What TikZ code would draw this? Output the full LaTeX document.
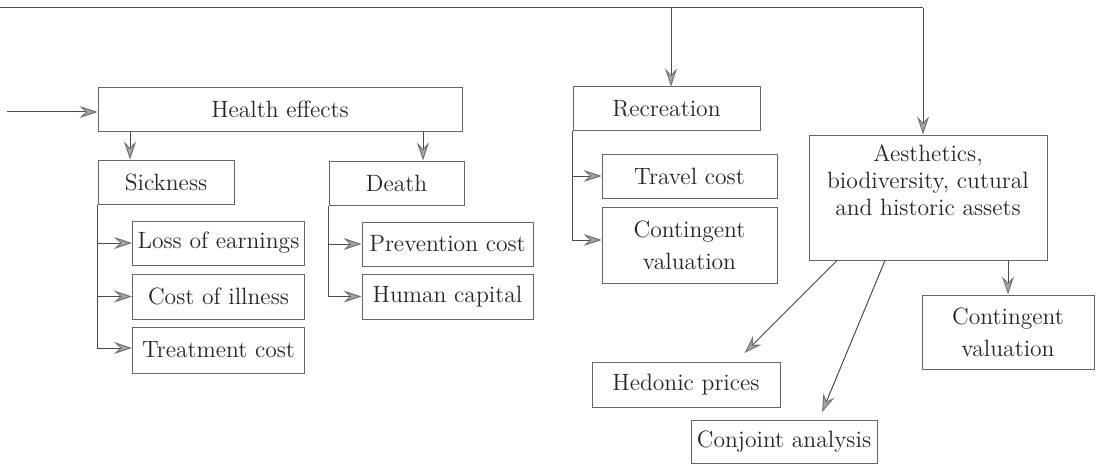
\documentclass[tikz,border=0pt]{standalone}
\usetikzlibrary{arrows.meta,calc}
\begin{document}
\begin{tikzpicture}[x=0.5pt,y=-0.5pt,
  box/.style={draw=black!60, line width=0.5pt, inner sep=0pt, align=center,
    font=\fontsize{11.8}{13.5}\selectfont, text=black!85},
  arr/.style={draw=black!70, line width=0.5pt,
    -{Stealth[length=9pt,width=6pt,inset=3.2pt,fill=black!35,color=black!55]}},
  ln/.style={draw=black!70, line width=0.5pt}]
\useasboundingbox (0,0) rectangle (1096,465);
% boxes
\node[box, minimum width=364*0.5pt, minimum height=43*0.5pt] (health) at (280,109.5) {Health effects};
\node[box, minimum width=136*0.5pt, minimum height=44*0.5pt] (sick) at (166,182) {Sickness};
\node[box, minimum width=135*0.5pt, minimum height=44*0.5pt] (death) at (396.5,183) {Death};
\node[box, minimum width=172*0.5pt, minimum height=44*0.5pt] (loss) at (218.5,243) {Loss of earnings};
\node[box, minimum width=172*0.5pt, minimum height=45*0.5pt] (illness) at (218.5,296.5) {Cost of illness};
\node[box, minimum width=172*0.5pt, minimum height=46*0.5pt] (treat) at (218.5,350) {Treatment cost};
\node[box, minimum width=171*0.5pt, minimum height=44*0.5pt] (prev) at (447.5,244) {Prevention cost};
\node[box, minimum width=171*0.5pt, minimum height=45*0.5pt] (human) at (447.5,296.5) {Human capital};
\node[box, minimum width=187*0.5pt, minimum height=43*0.5pt] (recr) at (666.5,108.5) {Recreation};
\node[box, minimum width=175*0.5pt, minimum height=44*0.5pt] (travel) at (689.5,176) {Travel cost};
\node[box, minimum width=175*0.5pt, minimum height=76*0.5pt] (contL) at (689.5,245) {Contingent\\[2.5pt]valuation};
\node[box, minimum width=238*0.5pt, minimum height=125*0.5pt, text depth=17pt] (aest) at (928,197.5) {Aesthetics,\\biodiversity, cutural\\and historic assets};
\node[box, minimum width=172*0.5pt, minimum height=74*0.5pt] (contR) at (1008,332) {Contingent\\[2.5pt]valuation};
\node[box, minimum width=188*0.5pt, minimum height=45*0.5pt] (hedonic) at (686,384.5) {Hedonic prices};
\node[box, minimum width=186*0.5pt, minimum height=43*0.5pt] (conjoint) at (784,441.5) {Conjoint analysis};
% coordinates
\coordinate (topL) at (0,8);
\coordinate (topR) at (923,8);
\coordinate (topM) at (671,8);
\coordinate (inL) at (7,112);
% top connectors
\draw[ln] (topL) -- (topR);
\draw[arr] (topR) -- (topR |- aest.north);
\draw[arr] (topM) -- (topM |- recr.north);
\draw[arr] (inL) -- (inL -| health.west);
% health
\draw[arr] (health.south -| 130,0) -- (sick.north -| 130,0);
\draw[arr] (health.south -| 423,0) -- (death.north -| 423,0);
% sickness bracket
\draw[arr] (sick.south west) |- (loss.west);
\draw[arr] (sick.south west) |- (illness.west);
\draw[arr] (sick.south west) |- ([yshift=1pt]treat.west);
% death bracket
\draw[arr] (death.south west) |- (prev.west);
\draw[arr] (death.south west) |- (human.west);
% recreation bracket
\draw[arr] (recr.south west) |- (travel.west);
\draw[arr] (recr.south west) |- ([yshift=2.5pt]contL.west);
% aesthetics
\draw[arr] (aest.south -| contR.north) -- (contR.north);
\draw[arr, shorten >=6pt] (aest.south -| 837,0) -- ($(hedonic.north)+(50,0)$);
\draw[arr, shorten >=4pt] (aest.south -| 885,0) -- ($(conjoint.north)+(35,0)$);
\end{tikzpicture}
\end{document}
